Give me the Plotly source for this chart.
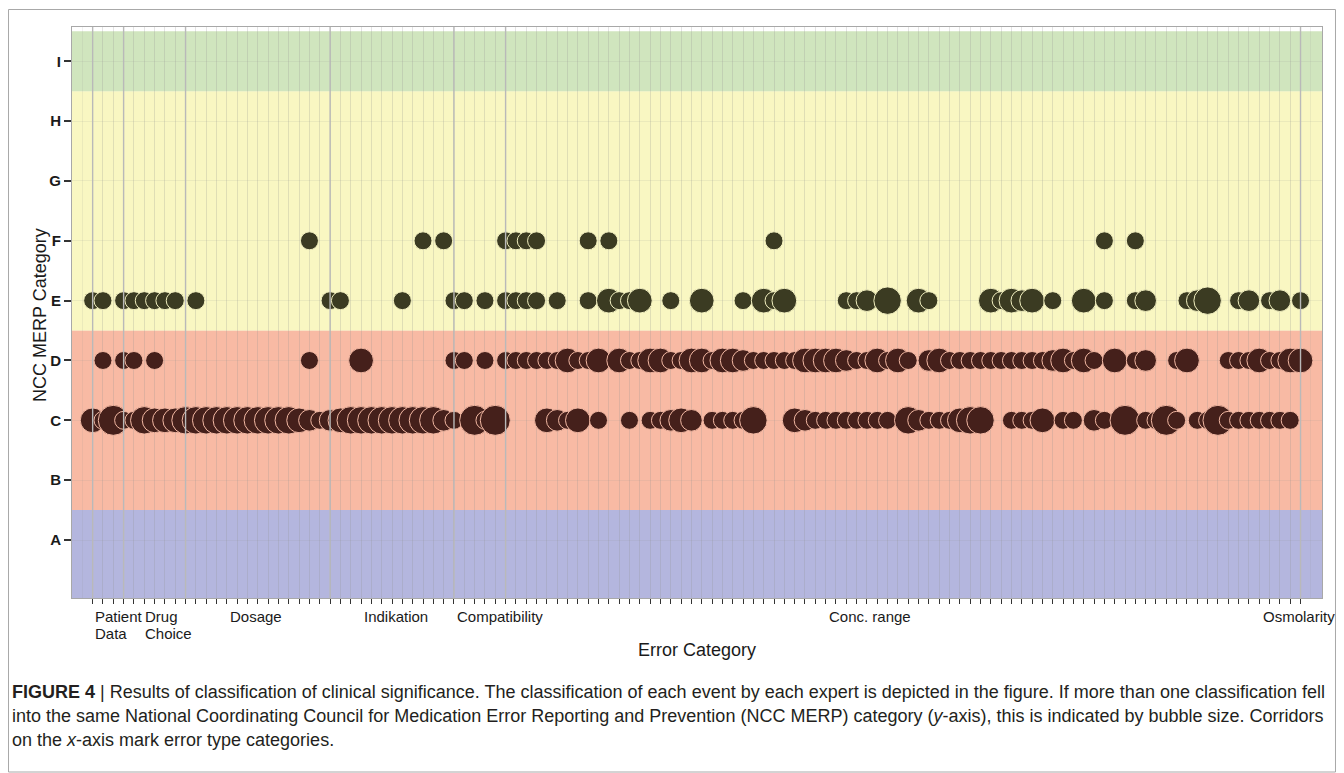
import math
import plotly.graph_objects as go

# ---------------- data ----------------
levels = ["A", "B", "C", "D", "E", "F", "G", "H", "I"]

category_names = ["Patient\nData", "Drug\nChoice", "Dosage", "Indikation",
                  "Compatibility", "Conc. range", "Osmolarity"]
category_sizes = [3, 6, 14, 12, 5, 77, 1]
category_label_x = [1.03, 5.87, 14.1, 27.1, 36.1, 72.1, 114.2]

c_events = [1, 2, 3, 4, 5, 6, 7, 8, 9, 10, 11, 12, 13, 14, 15, 16, 17, 18, 19, 20,
            21, 22, 23, 24, 25, 26, 27, 28, 29, 30, 31, 32, 33, 34, 35, 36,
            38, 39, 40, 45, 46, 47, 48, 50, 53, 55, 56, 57, 58, 59,
            61, 62, 63, 64, 65, 69, 70, 71, 72, 73, 74, 75, 76, 77, 78,
            80, 81, 82, 83, 84, 85, 86, 87, 90, 91, 92, 93, 95, 96, 98, 99,
            101, 103, 104, 105, 106, 108, 109, 110, 111, 112, 113, 114, 115, 116, 117]
c_counts = [3, 1, 5, 1, 1, 4, 3, 3, 3, 4, 4, 4, 4, 4, 4, 4, 4, 4, 4, 4,
            3, 2, 1, 2, 3, 4, 4, 4, 4, 4, 4, 4, 4, 4, 2, 1,
            5, 1, 5, 3, 2, 1, 3, 1, 1, 1, 1, 2, 3, 2,
            1, 1, 1, 1, 4, 3, 2, 1, 1, 1, 1, 1, 1, 1, 1,
            4, 2, 1, 1, 1, 3, 4, 4, 1, 1, 1, 3, 1, 1, 2, 1,
            5, 1, 1, 5, 1, 1, 1, 5, 1, 1, 1, 1, 1, 1, 1]

d_events = [2, 4, 5, 7, 22, 27, 36, 37, 39,
            41, 42, 43, 44, 45, 46, 47, 48, 49, 50,
            52, 53, 54, 55, 56, 57, 58, 59, 60, 61, 62, 63, 64, 65, 66, 67, 68, 69,
            70, 71, 72, 73, 74, 75, 76, 77, 78, 79, 80,
            82, 83, 84, 85, 86, 87, 88, 89, 90, 91, 92, 93, 94, 95, 96, 97, 98,
            100, 102, 103, 106, 107, 111, 112, 113, 114, 115, 116, 117, 118]
d_counts = [1, 1, 1, 1, 1, 3, 1, 1, 1,
            1, 1, 1, 1, 1, 1, 3, 1, 1, 3,
            3, 1, 1, 3, 3, 1, 1, 3, 3, 1, 3, 3, 2, 1, 1, 1, 1, 1,
            3, 3, 3, 3, 2, 1, 1, 3, 1, 3, 1,
            2, 3, 1, 1, 1, 1, 1, 1, 1, 1, 1, 1, 2, 3, 1, 3, 1,
            3, 1, 2, 1, 3, 1, 1, 1, 3, 1, 1, 3, 3]

e_events = [1, 2, 4, 5, 6, 7, 8, 9, 11, 24, 25, 31, 36, 37, 39, 41, 42, 43, 44, 46, 49,
            51, 52, 53, 54, 57, 60, 64, 66, 67, 68, 74, 75, 76, 78, 81, 82,
            88, 89, 90, 91, 92, 94, 97, 99, 102, 103, 107, 108, 109, 112, 113, 115, 116, 118]
e_counts = [1, 1, 1, 1, 1, 1, 1, 1, 1, 1, 1, 1, 1, 1, 1, 1, 1, 1, 1, 1, 1,
            3, 1, 1, 3, 1, 3, 1, 3, 1, 3, 1, 1, 2, 4, 3, 1,
            3, 1, 3, 2, 3, 1, 3, 1, 1, 2, 1, 2, 4, 1, 2, 1, 2, 1]

f_events = [22, 33, 35, 41, 42, 43, 44, 49, 51, 67, 99, 102]
f_counts = [1, 1, 1, 1, 1, 1, 1, 1, 1, 1, 1, 1]

band_colors = ["rgba(148,151,208,0.7)", "rgba(245,156,125,0.7)",
               "rgba(246,244,168,0.7)", "rgba(188,218,162,0.7)"]
band_edges = [0.0, 1.5, 4.5, 8.5, 9.5]

caption_lines = [
    "<b>FIGURE 4</b> | Results of classification of clinical significance. The classification of each event by each expert is depicted in the figure. If more than one classification fell",
    "into the same National Coordinating Council for Medication Error Reporting and Prevention (NCC MERP) category (<i>y</i>-axis), this is indicated by bubble size. Corridors",
    "on the <i>x</i>-axis mark error type categories.",
]

assert len(c_events) == len(c_counts)
assert len(d_events) == len(d_counts)
assert len(e_events) == len(e_counts)
assert len(f_events) == len(f_counts)

# ---------------- layout geometry ----------------
W, H = 1344, 773
ML, MR, MT, MB = 72, 21.5, 27, 175
PW = W - ML - MR
PH = H - MT - MB
FONT = "Liberation Sans, Arial, sans-serif"
n_events = sum(category_sizes)
GRID = "rgba(150,150,150,0.13)"


def px(xp):
    return (xp - ML) / PW


def py(yp):
    return (H - MB - yp) / PH


def diam(c):
    return math.sqrt(18 ** 2 + (c - 1) * (30 ** 2 - 18 ** 2) / 4)


fig = go.Figure()

rows = [
    ("C", c_events, c_counts, "#45201b", "#f2b8a3"),
    ("D", d_events, d_counts, "#45201b", "#f2b8a3"),
    ("E", e_events, e_counts, "#3b3b22", "#f1efbf"),
    ("F", f_events, f_counts, "#3b3b22", "#f1efbf"),
]
for lvl, ev, cnt, col, lcol in rows:
    yv = levels.index(lvl) + 1
    fig.add_trace(go.Scatter(
        x=ev, y=[yv] * len(ev), mode="markers",
        marker=dict(size=[diam(c) for c in cnt], color=col, opacity=1,
                    line=dict(color=lcol, width=1)),
        hoverinfo="skip", showlegend=False, cliponaxis=False))

shapes = []
for i, colr in enumerate(band_colors):
    shapes.append(dict(type="rect", xref="x domain", yref="y", x0=0, x1=1,
                       y0=band_edges[i], y1=band_edges[i + 1],
                       fillcolor=colr, line=dict(width=0), layer="below"))

start = 1
for s in category_sizes:
    shapes.append(dict(type="line", xref="x", yref="y domain", x0=start, x1=start,
                       y0=0, y1=1, line=dict(color="#b9b9b9", width=1.4), layer="above"))
    start += s

# outer frame
shapes.append(dict(type="rect", xref="paper", yref="paper",
                   x0=px(8.5), x1=px(1336), y0=py(9.5), y1=py(772),
                   line=dict(color="#a8a8a8", width=1), fillcolor="rgba(0,0,0,0)",
                   layer="above"))

annotations = []
for name, lx in zip(category_names, category_label_x):
    for k, part in enumerate(name.split("\n")):
        annotations.append(dict(x=lx, y=py(606 + 17 * k), xref="x", yref="paper",
                                text=part, showarrow=False, xanchor="left", yanchor="top",
                                font=dict(family=FONT, size=15, color="#1a1a1a")))

annotations.append(dict(x=px(697), y=py(650), xref="paper", yref="paper",
                        text="Error Category", showarrow=False, xanchor="center",
                        yanchor="middle", font=dict(family=FONT, size=18, color="#1a1a1a")))
annotations.append(dict(x=px(40), y=py(315), xref="paper", yref="paper",
                        text="NCC MERP Category", showarrow=False, textangle=-90,
                        xanchor="center", yanchor="middle",
                        font=dict(family=FONT, size=18, color="#1a1a1a")))

for k, line in enumerate(caption_lines):
    annotations.append(dict(x=px(10), y=py(692 + 24 * k), xref="paper", yref="paper",
                            text=line, showarrow=False, xanchor="left", yanchor="middle",
                            font=dict(family=FONT, size=18, color="#231f20")))

fig.update_layout(
    width=W, height=H,
    margin=dict(l=ML, r=MR, t=MT, b=MB, pad=0),
    paper_bgcolor="white", plot_bgcolor="white",
    shapes=shapes, annotations=annotations,
    showlegend=False,
    xaxis=dict(range=[-1.0, 120.08], tickvals=list(range(1, n_events + 1)),
               ticktext=[""] * n_events, ticks="outside", ticklen=5, tickwidth=1.2,
               tickcolor="#333333", showgrid=True, gridcolor=GRID,
               gridwidth=1, zeroline=False, showline=True, mirror=True,
               linecolor="#a8a8a8", linewidth=1,
               minor=dict(tick0=0, dtick=1, showgrid=True,
                          gridcolor=GRID, gridwidth=1, ticks="")),
    yaxis=dict(range=[0.031, 9.573], tickvals=list(range(1, 10)),
               ticktext=["<b>%s</b>" % t for t in levels],
               ticks="outside", ticklen=7, tickwidth=1.5, tickcolor="#333333",
               tickfont=dict(family=FONT, size=15, color="#1a1a1a"),
               showgrid=True, gridcolor=GRID, gridwidth=1,
               zeroline=False, showline=True, mirror=True,
               linecolor="#a8a8a8", linewidth=1),
)

fig.write_html("out.html", config={"displayModeBar": False},
               post_script="document.body.style.margin='0';document.body.style.overflow='hidden';")
